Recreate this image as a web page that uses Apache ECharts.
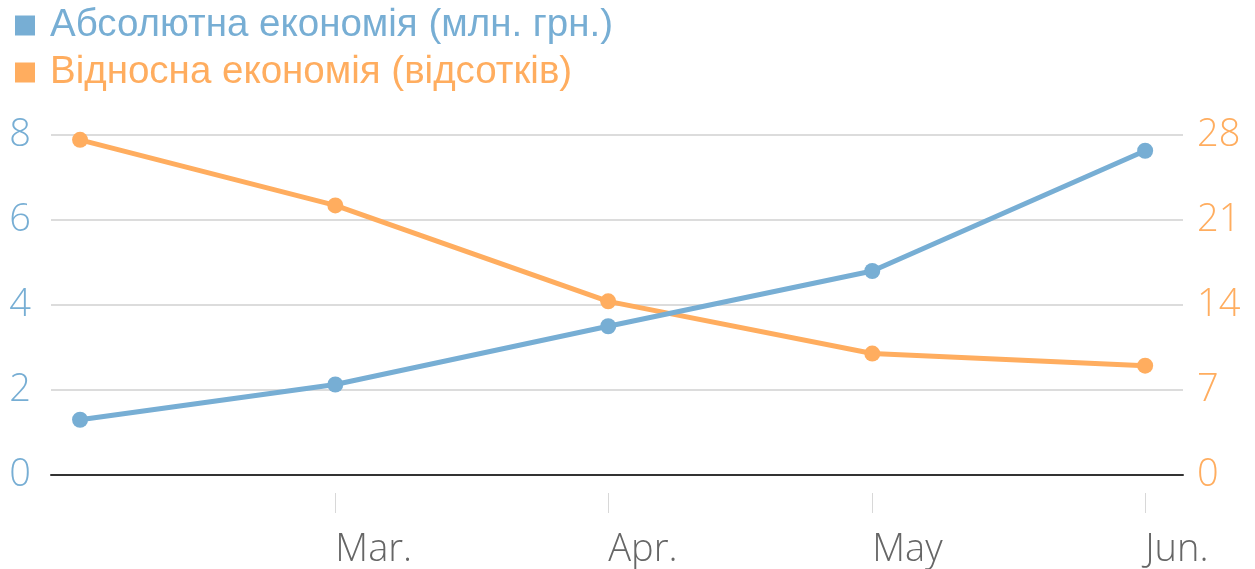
<!DOCTYPE html>
<html><head><meta charset="utf-8">
<script src="https://cdn.jsdelivr.net/npm/echarts@6/dist/echarts.min.js"></script>
<style>html,body{margin:0;padding:0;background:#fff}#c{width:1255px;height:569px}</style>
</head><body><div id="c"></div>
<script>
const dates = ['2016-02-01','2016-03-01','2016-04-01','2016-05-01','2016-06-01'];
const absSaving = [1.3, 2.13, 3.5, 4.8, 7.63];
const relSaving = [27.6, 22.2, 14.3, 10.0, 9.0];
const tickDates = ['2016-03-01','2016-04-01','2016-05-01','2016-06-01'];
const tickLabels = ['Mar.','Apr.','May','Jun.'];
const leftTicks = [0,2,4,6,8];
const rightTicks = [0,7,14,21,28];
const seriesNames = ['Абсолютна економія (млн. грн.)','Відносна економія (відсотків)'];

const BLUE = '#77aed4', ORANGE = '#ffad5f';
const DAY = 86400000;
const toTs = d => { const p = d.split('-'); return Date.UTC(+p[0], +p[1]-1, +p[2]); };
const ts = dates.map(toTs);
const tickTs = tickDates.map(toTs);
const xmin = ts[0] - 3.3*DAY;
const xmax = ts[ts.length-1] + 4.3*DAY;

const chart = echarts.init(document.getElementById('c'));
const lightFont = {fontFamily:'Open Sans', fontWeight:300, fontSize:38};
chart.setOption({
  animation:false,
  legend:{
    left:10, top:1, orient:'vertical', icon:'rect', itemWidth:20, itemHeight:20, itemGap:8,
    textStyle:{fontFamily:'Liberation Sans', fontSize:38.5, padding:[0,0,0,10]},
    data:[
      {name:seriesNames[0], textStyle:{color:BLUE}},
      {name:seriesNames[1], textStyle:{color:ORANGE}}
    ]
  },
  grid:{left:51, right:72, top:135, bottom:92},
  xAxis:[
    {type:'value', min:xmin, max:xmax, axisLine:{show:true, onZero:false, lineStyle:{color:'#333', width:2}},
     axisTick:{show:false}, axisLabel:{show:false}, splitLine:{show:false}},
    {type:'value', min:xmin, max:xmax, position:'bottom', offset:18,
     axisLine:{show:false, onZero:false},
     axisTick:{show:true, length:20, customValues:tickTs, lineStyle:{color:'#d8d8d8', width:1}},
     axisLabel:{customValues:tickTs, margin:38, color:'#666', align:'left', ...lightFont,
       formatter:(v)=>{ const i = tickTs.indexOf(v); return i>=0 ? tickLabels[i] : ''; }},
     splitLine:{show:false}}
  ],
  yAxis:[
    {type:'value', min:leftTicks[0], max:leftTicks[leftTicks.length-1], interval:2,
     axisLine:{show:false}, axisTick:{show:false},
     axisLabel:{color:BLUE, margin:20, ...lightFont},
     splitLine:{lineStyle:{color:'#dcdcdc', width:2}}},
    {type:'value', min:rightTicks[0], max:rightTicks[rightTicks.length-1], interval:7,
     axisLine:{show:false}, axisTick:{show:false},
     axisLabel:{color:ORANGE, margin:14, ...lightFont},
     splitLine:{show:false}}
  ],
  series:[
    {name:seriesNames[0], type:'line', xAxisIndex:0, yAxisIndex:0,
     data:ts.map((t,i)=>[t, absSaving[i]]),
     symbol:'circle', symbolSize:16, lineStyle:{color:BLUE, width:5}, itemStyle:{color:BLUE}, z:3},
    {name:seriesNames[1], type:'line', xAxisIndex:0, yAxisIndex:1,
     data:ts.map((t,i)=>[t, relSaving[i]]),
     symbol:'circle', symbolSize:16, lineStyle:{color:ORANGE, width:5}, itemStyle:{color:ORANGE}, z:2}
  ]
});
</script></body></html>
